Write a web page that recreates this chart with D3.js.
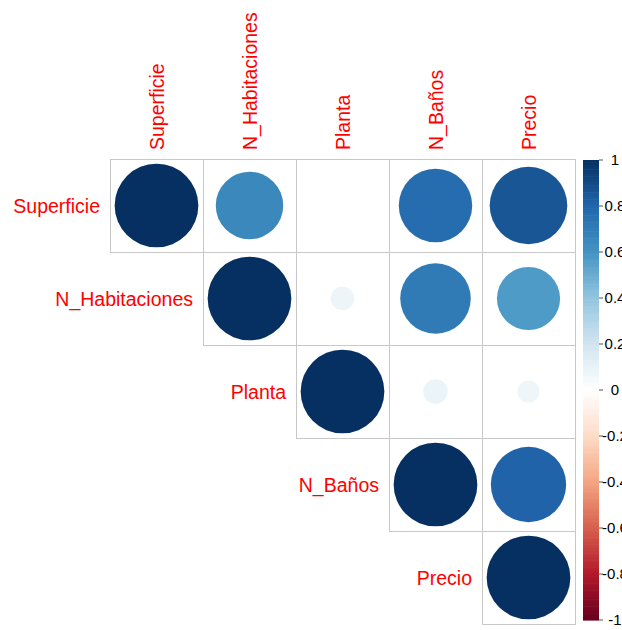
<!DOCTYPE html>
<html>
<head>
<meta charset="utf-8">
<script src="https://cdn.jsdelivr.net/npm/d3@7"></script>
<style>
  html, body { margin: 0; padding: 0; background: #ffffff; }
  svg { display: block; }
  text { font-family: "Liberation Sans", Arial, sans-serif; }
</style>
</head>
<body>
<svg id="chart" width="622" height="630"></svg>
<script>
// Variables of the correlation matrix
const variables = ["Superficie", "N_Habitaciones", "Planta", "N_Baños", "Precio"];

// Upper-triangle correlation coefficients, one row per variable (from the diagonal onward)
const rowSuperficie    = [1.00, 0.65, 0.00, 0.77, 0.86];
const rowHabitaciones  = [1.00, 0.08, 0.71, 0.57];
const rowPlanta        = [1.00, 0.085, 0.07];
const rowBanos         = [1.00, 0.81];
const rowPrecio        = [1.00];

// Colour legend ticks
const legendTicks = [1, 0.8, 0.6, 0.4, 0.2, 0, -0.2, -0.4, -0.6, -0.8, -1];
const legendTickLabels = ["1", "0.8", "0.6", "0.4", "0.2", "0", "-0.2", "-0.4", "-0.6", "-0.8", "-1"];

// Diverging red-blue palette
const paletteStops = ["#67001F", "#B2182B", "#D6604D", "#F4A582", "#FDDBC7", "#FFFFFF",
                      "#D1E5F0", "#92C5DE", "#4393C3", "#2166AC", "#053061"];

const rows = [rowSuperficie, rowHabitaciones, rowPlanta, rowBanos, rowPrecio];
const cells = [];
rows.forEach((vals, i) => {
  vals.forEach((v, k) => {
    cells.push({ row: variables[i], col: variables[i + k], value: v });
  });
});

const svg = d3.select("#chart");

const x = d3.scaleBand().domain(variables).range([110, 575]);
const y = d3.scaleBand().domain(variables).range([159, 624]);
const color = d3.scaleLinear()
  .domain(d3.range(paletteStops.length).map(i => -1 + 2 * i / (paletteStops.length - 1)))
  .range(paletteStops)
  .interpolate(d3.interpolateRgb);
const radius = d3.scaleSqrt().domain([0, 1]).range([0, x.bandwidth() / 2 * 0.9]);

// Cell borders
svg.append("g")
  .selectAll("rect")
  .data(cells)
  .join("rect")
  .attr("x", d => x(d.col) + 0.5)
  .attr("y", d => y(d.row) + 0.5)
  .attr("width", x.bandwidth())
  .attr("height", y.bandwidth())
  .attr("fill", "none")
  .attr("stroke", "#c8c8c8")
  .attr("stroke-width", 1);

// Circles sized and coloured by the coefficient
svg.append("g")
  .selectAll("circle")
  .data(cells)
  .join("circle")
  .attr("cx", d => x(d.col) + x.bandwidth() / 2)
  .attr("cy", d => y(d.row) + y.bandwidth() / 2)
  .attr("r", d => radius(Math.abs(d.value)))
  .attr("fill", d => color(d.value));

// Column labels (rotated)
svg.append("g")
  .selectAll("text")
  .data(variables)
  .join("text")
  .attr("transform", d => `translate(${x(d) + x.bandwidth() / 2},150) rotate(-90)`)
  .attr("dy", "0.36em")
  .attr("text-anchor", "start")
  .attr("font-size", 19.5)
  .attr("fill", "#ff0000")
  .text(d => d);

// Row labels, placed just left of the first cell of each row
svg.append("g")
  .selectAll("text")
  .data(variables)
  .join("text")
  .attr("x", d => x(d) - 10)
  .attr("y", d => y(d) + y.bandwidth() / 2)
  .attr("dy", "0.36em")
  .attr("text-anchor", "end")
  .attr("font-size", 19.5)
  .attr("fill", "#ff0000")
  .text(d => d);

// Colour bar legend
const ly = d3.scaleLinear().domain([1, -1]).range([160, 620]);
const barX = 583, barW = 16;
const nBins = 200;
const bins = d3.range(nBins).map(i => ({
  hi: 1 - 2 * i / nBins,
  lo: 1 - 2 * (i + 1) / nBins
}));
const legend = svg.append("g");
legend.selectAll("rect")
  .data(bins)
  .join("rect")
  .attr("x", barX)
  .attr("y", d => ly(d.hi))
  .attr("width", barW)
  .attr("height", d => ly(d.lo) - ly(d.hi) + 0.6)
  .attr("fill", d => color((d.hi + d.lo) / 2));

legend.selectAll("line")
  .data(legendTicks)
  .join("line")
  .attr("x1", barX + barW)
  .attr("x2", barX + barW + 4)
  .attr("y1", d => ly(d))
  .attr("y2", d => ly(d))
  .attr("stroke", "#555555")
  .attr("stroke-width", 1);

legend.selectAll("text")
  .data(legendTicks)
  .join("text")
  .attr("x", 615)
  .attr("y", d => ly(d))
  .attr("dy", "0.36em")
  .attr("text-anchor", "middle")
  .attr("font-size", 15)
  .attr("fill", "#000000")
  .text((d, i) => legendTickLabels[i]);
</script>
</body>
</html>
